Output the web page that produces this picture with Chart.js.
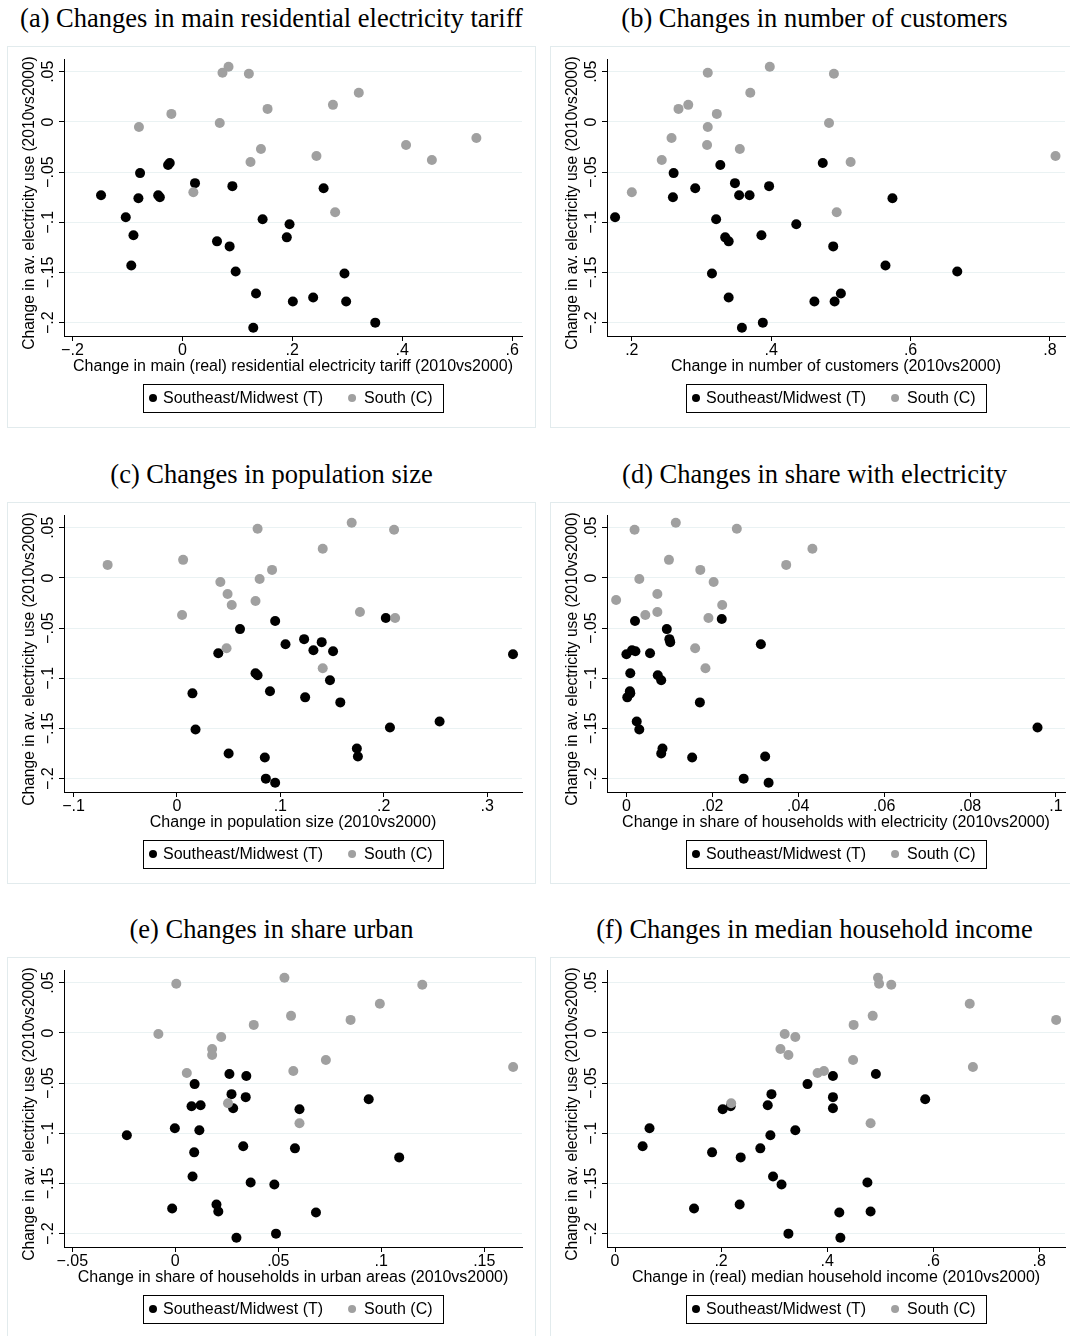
<!DOCTYPE html>
<html>
<head>
<meta charset="utf-8">
<script src="https://cdn.jsdelivr.net/npm/chart.js@4.4.1/dist/chart.umd.min.js"></script>
<style>
  html, body { margin: 0; padding: 0; background: #fff; overflow: hidden; }
  #wrap { position: relative; width: 1070px; height: 1336px; overflow: hidden; }
  .ttl { position: absolute; width: 529px; height: 30px; line-height: 30px; text-align: center;
         font: 26.5px "Liberation Serif", "Times New Roman", serif; color: #000; white-space: nowrap; }
  canvas { position: absolute; }
</style>
</head>
<body>
<div id="wrap"></div>
<script>
  // shared y axis
  const yTicks = [-0.2, -0.15, -0.1, -0.05, 0, 0.05];
  const yTickLabels = ['−.2', '−.15', '−.1', '−.05', '0', '.05'];
  const yTitle = 'Change in av. electricity use (2010vs2000)';
  const groupNames = ['Southeast/Midwest (T)', 'South (C)'];

  // (a) tariff
  const tariffTx = [-0.148, -0.103, -0.089, -0.093, -0.077, -0.080, -0.044, -0.041, -0.023, -0.026, 0.023, 0.091, 0.063, 0.086, 0.097, 0.134, 0.129, 0.146, 0.195, 0.190, 0.257, 0.201, 0.238, 0.295, 0.298, 0.351];
  const tariffTy = [-0.073, -0.095, -0.113, -0.143, -0.051, -0.076, -0.073, -0.075, -0.041, -0.043, -0.061, -0.064, -0.119, -0.124, -0.149, -0.171, -0.205, -0.097, -0.102, -0.115, -0.066, -0.179, -0.175, -0.151, -0.179, -0.200];
  const tariffCx = [0.073, 0.084, 0.121, 0.321, 0.274, 0.155, -0.020, -0.079, 0.068, 0.535, 0.407, 0.143, 0.244, 0.454, 0.124, 0.020, 0.278];
  const tariffCy = [0.049, 0.055, 0.048, 0.029, 0.017, 0.013, 0.008, -0.005, -0.001, -0.016, -0.023, -0.027, -0.034, -0.038, -0.040, -0.070, -0.090];
  const tariffTicks = [-0.2, 0, 0.2, 0.4, 0.6];
  const tariffTickLabels = ['−.2', '0', '.2', '.4', '.6'];

  // (b) customers
  const custTx = [0.176, 0.260, 0.259, 0.291, 0.327, 0.321, 0.334, 0.339, 0.315, 0.339, 0.358, 0.348, 0.354, 0.369, 0.397, 0.386, 0.388, 0.436, 0.474, 0.489, 0.462, 0.491, 0.500, 0.574, 0.564, 0.667];
  const custTy = [-0.095, -0.051, -0.075, -0.066, -0.043, -0.097, -0.115, -0.119, -0.151, -0.175, -0.205, -0.061, -0.073, -0.073, -0.064, -0.113, -0.200, -0.102, -0.041, -0.124, -0.179, -0.179, -0.171, -0.076, -0.143, -0.149];
  const custCx = [0.309, 0.398, 0.490, 0.370, 0.267, 0.281, 0.322, 0.309, 0.483, 0.257, 0.308, 0.355, 0.243, 0.514, 0.808, 0.200, 0.494];
  const custCy = [0.049, 0.055, 0.048, 0.029, 0.013, 0.017, 0.008, -0.005, -0.001, -0.016, -0.023, -0.027, -0.038, -0.040, -0.034, -0.070, -0.090];
  const custTicks = [0.2, 0.4, 0.6, 0.8];
  const custTickLabels = ['.2', '.4', '.6', '.8'];

  // (c) population
  const popTx = [0.040, 0.015, 0.018, 0.050, 0.061, 0.095, 0.085, 0.086, 0.095, 0.076, 0.078, 0.090, 0.105, 0.123, 0.132, 0.140, 0.151, 0.148, 0.124, 0.158, 0.174, 0.175, 0.206, 0.202, 0.254, 0.325];
  const popTy = [-0.075, -0.115, -0.151, -0.175, -0.051, -0.043, -0.179, -0.200, -0.204, -0.095, -0.097, -0.113, -0.066, -0.061, -0.072, -0.064, -0.073, -0.102, -0.119, -0.124, -0.170, -0.178, -0.149, -0.040, -0.143, -0.076];
  const popCx = [-0.067, 0.006, 0.005, 0.042, 0.049, 0.053, 0.048, 0.078, 0.080, 0.076, 0.092, 0.141, 0.141, 0.169, 0.177, 0.210, 0.211];
  const popCy = [0.013, 0.018, -0.037, -0.004, -0.016, -0.027, -0.070, 0.049, -0.001, -0.023, 0.008, 0.029, -0.090, 0.055, -0.034, 0.048, -0.040];
  const popTicks = [-0.1, 0, 0.1, 0.2, 0.3];
  const popTickLabels = ['−.1', '0', '.1', '.2', '.3'];

  // (d) share with electricity
  const elecTx = [0.0020, 0.0000, 0.0013, 0.0021, 0.0009, 0.0008, 0.0009, 0.0002, 0.0024, 0.0030, 0.0055, 0.0094, 0.0100, 0.0102, 0.0073, 0.0081, 0.0084, 0.0081, 0.0171, 0.0153, 0.0222, 0.0313, 0.0273, 0.0323, 0.0331, 0.0957];
  const elecTy = [-0.043, -0.076, -0.072, -0.073, -0.095, -0.113, -0.115, -0.119, -0.143, -0.151, -0.075, -0.051, -0.061, -0.064, -0.097, -0.102, -0.170, -0.175, -0.124, -0.179, -0.041, -0.066, -0.200, -0.178, -0.204, -0.149];
  const elecCx = [-0.0024, 0.0019, 0.0030, 0.0044, 0.0072, 0.0072, 0.0099, 0.0115, 0.0172, 0.0191, 0.0160, 0.0184, 0.0203, 0.0223, 0.0257, 0.0372, 0.0433];
  const elecCy = [-0.022, 0.048, -0.001, -0.037, -0.016, -0.034, 0.018, 0.055, 0.008, -0.040, -0.070, -0.090, -0.004, -0.027, 0.049, 0.013, 0.029];
  const elecTicks = [0, 0.02, 0.04, 0.06, 0.08, 0.1];
  const elecTickLabels = ['0', '.02', '.04', '.06', '.08', '.1'];

  // (e) share urban
  const urbTx = [-0.0235, -0.0015, -0.0002, 0.0094, 0.0079, 0.0123, 0.0117, 0.0092, 0.0084, 0.0200, 0.0209, 0.0297, 0.0263, 0.0273, 0.0281, 0.0345, 0.0342, 0.0330, 0.0366, 0.0481, 0.0489, 0.0581, 0.0603, 0.0683, 0.0939, 0.1087];
  const urbTy = [-0.102, -0.175, -0.095, -0.051, -0.073, -0.072, -0.097, -0.119, -0.143, -0.171, -0.178, -0.204, -0.041, -0.061, -0.075, -0.043, -0.064, -0.113, -0.149, -0.151, -0.200, -0.115, -0.076, -0.179, -0.066, -0.124];
  const urbCx = [0.0005, -0.0082, 0.0056, 0.0179, 0.0179, 0.0223, 0.0256, 0.0381, 0.0530, 0.0562, 0.0573, 0.0603, 0.0731, 0.0851, 0.0993, 0.1199, 0.1640];
  const urbCy = [0.049, -0.001, -0.040, -0.016, -0.022, -0.004, -0.070, 0.008, 0.055, 0.017, -0.038, -0.090, -0.027, 0.013, 0.029, 0.048, -0.034];
  const urbTicks = [-0.05, 0, 0.05, 0.1, 0.15];
  const urbTickLabels = ['−.05', '0', '.05', '.1', '.15'];

  // (f) median income
  const incTx = [0.052, 0.065, 0.149, 0.183, 0.203, 0.218, 0.237, 0.235, 0.274, 0.288, 0.295, 0.293, 0.298, 0.314, 0.327, 0.340, 0.363, 0.411, 0.411, 0.411, 0.423, 0.425, 0.476, 0.482, 0.492, 0.585];
  const incTy = [-0.113, -0.095, -0.175, -0.119, -0.076, -0.073, -0.124, -0.171, -0.115, -0.072, -0.061, -0.102, -0.143, -0.151, -0.200, -0.097, -0.051, -0.043, -0.064, -0.075, -0.179, -0.204, -0.149, -0.178, -0.041, -0.066];
  const incCx = [0.219, 0.312, 0.320, 0.327, 0.340, 0.382, 0.394, 0.449, 0.450, 0.482, 0.486, 0.496, 0.498, 0.521, 0.669, 0.675, 0.832];
  const incCy = [-0.070, -0.016, -0.001, -0.022, -0.004, -0.040, -0.038, -0.027, 0.008, -0.090, 0.017, 0.055, 0.049, 0.048, 0.029, -0.034, 0.013];
  const incTicks = [0, 0.2, 0.4, 0.6, 0.8];
  const incTickLabels = ['0', '.2', '.4', '.6', '.8'];

  const panels = [
    { title: '(a) Changes in main residential electricity tariff', xTitle: 'Change in main (real) residential electricity tariff (2010vs2000)',
      tx: tariffTx, ty: tariffTy, cx: tariffCx, cy: tariffCy, ticks: tariffTicks, labels: tariffTickLabels, min: -0.2154, max: 0.618 },
    { title: '(b) Changes in number of customers', xTitle: 'Change in number of customers (2010vs2000)',
      tx: custTx, ty: custTy, cx: custCx, cy: custCy, ticks: custTicks, labels: custTickLabels, min: 0.1644, max: 0.8216 },
    { title: '(c) Changes in population size', xTitle: 'Change in population size (2010vs2000)',
      tx: popTx, ty: popTy, cx: popCx, cy: popCy, ticks: popTicks, labels: popTickLabels, min: -0.1092, max: 0.3337 },
    { title: '(d) Changes in share with electricity', xTitle: 'Change in share of households with electricity (2010vs2000)',
      tx: elecTx, ty: elecTy, cx: elecCx, cy: elecCy, ticks: elecTicks, labels: elecTickLabels, min: -0.00452, max: 0.1021 },
    { title: '(e) Changes in share urban', xTitle: 'Change in share of households in urban areas (2010vs2000)',
      tx: urbTx, ty: urbTy, cx: urbCx, cy: urbCy, ticks: urbTicks, labels: urbTickLabels, min: -0.054, max: 0.1683 },
    { title: '(f) Changes in median household income', xTitle: 'Change in (real) median household income (2010vs2000)',
      tx: incTx, ty: incTy, cx: incCx, cy: incCy, ticks: incTicks, labels: incTickLabels, min: -0.0152, max: 0.8487 },
  ];

  const FONT = '"Liberation Sans", Arial, sans-serif';
  const GREY = '#a0a0a0';

  // box outline, rotated y labels / y title and the boxed legend
  const decor = {
    id: 'decor',
    beforeDraw(chart) {
      const c = chart.ctx;
      c.save();
      c.fillStyle = '#fff';
      c.fillRect(0, 0, chart.width, chart.height);
      c.strokeStyle = '#e2ebed';
      c.lineWidth = 1;
      c.strokeRect(0.5, 0.5, chart.width - 1, chart.height - 1);
      c.restore();
    },
    afterDraw(chart) {
      const c = chart.ctx, ys = chart.scales.y, area = chart.chartArea;
      c.save();
      c.fillStyle = '#000';
      c.textAlign = 'center';
      c.textBaseline = 'middle';
      c.font = '16px ' + FONT;
      yTicks.forEach((v, k) => {
        c.save();
        c.translate(41, ys.getPixelForValue(v));
        c.rotate(-Math.PI / 2);
        c.fillText(yTickLabels[k], 0, 1);
        c.restore();
      });
      c.font = '15.6px ' + FONT;
      c.save();
      c.translate(23, 157);
      c.rotate(-Math.PI / 2);
      c.fillText(yTitle, 0, 0);
      c.restore();

      c.font = '16px ' + FONT;
      const ds = chart.data.datasets;
      const w = ds.map(d => c.measureText(d.label).width);
      const total = 10 + 10 + w[0] + 29 + 12 + w[1] + 10;
      const x0 = Math.round((area.left + area.right) / 2 - total / 2);
      const top = 338, h = 28, cy = top + h / 2;
      c.strokeStyle = '#000';
      c.lineWidth = 1;
      c.strokeRect(x0 + 0.5, top + 0.5, Math.round(total), h);
      let x = x0 + 10;
      ds.forEach((d, k) => {
        c.beginPath();
        c.arc(x, cy, 4, 0, Math.PI * 2);
        c.fillStyle = d.backgroundColor;
        c.fill();
        c.fillStyle = '#000';
        c.textAlign = 'left';
        const tx = x + (k === 0 ? 10 : 12);
        c.fillText(d.label, tx, cy + 1);
        x = tx + w[k] + 29;
      });
      c.restore();
    }
  };

  const wrap = document.getElementById('wrap');

  panels.forEach((p, i) => {
    const col = i % 2, row = Math.floor(i / 2);
    const left = col ? 550 : 7;
    const top = Math.round(46 + row * 455.7);

    const t = document.createElement('div');
    t.className = 'ttl';
    t.style.left = left + 'px';
    t.style.top = (top - 43) + 'px';
    t.textContent = p.title;
    wrap.appendChild(t);

    const cv = document.createElement('canvas');
    cv.width = 529;
    cv.height = 382;
    cv.style.left = left + 'px';
    cv.style.top = top + 'px';
    wrap.appendChild(cv);

    new Chart(cv, {
      type: 'scatter',
      data: {
        datasets: [{
          label: groupNames[0],
          data: p.tx.map((x, k) => ({ x: x, y: p.ty[k] })),
          backgroundColor: '#000',
          pointRadius: 5,
          pointBorderWidth: 0,
          order: 2,
        }, {
          label: groupNames[1],
          data: p.cx.map((x, k) => ({ x: x, y: p.cy[k] })),
          backgroundColor: GREY,
          pointRadius: 5,
          pointBorderWidth: 0,
          order: 1,
        }]
      },
      options: {
        responsive: false,
        animation: false,
        devicePixelRatio: 1,
        layout: { padding: { top: 13, right: 14, bottom: 50, left: 0 } },
        plugins: { legend: { display: false }, tooltip: { enabled: false } },
        scales: {
          x: {
            type: 'linear',
            min: p.min,
            max: p.max,
            afterBuildTicks: s => { s.ticks = p.ticks.map(v => ({ value: v })); },
            afterFit: s => { s.height = 42; s.paddingLeft = 0; s.paddingRight = 0; },
            ticks: {
              autoSkip: false, maxRotation: 0, minRotation: 0, padding: 0, color: '#000',
              font: { family: FONT, size: 16 },
              callback: (v, k) => p.labels[k],
            },
            grid: { drawOnChartArea: false, drawTicks: true, tickLength: 5, tickColor: '#000' },
            border: { display: true, color: '#000' },
            title: { display: true, text: p.xTitle, color: '#000', font: { family: FONT, size: 16 }, padding: { top: 0, bottom: 2 } },
          },
          y: {
            type: 'linear',
            min: -0.2133,
            max: 0.0627,
            afterBuildTicks: s => { s.ticks = yTicks.map(v => ({ value: v })); },
            afterFit: s => { s.width = 57; },
            ticks: { display: false },
            grid: { color: '#eaf2f3', drawTicks: true, tickLength: 5, tickColor: '#000' },
            border: { display: true, color: '#000' },
            title: { display: false },
          }
        }
      },
      plugins: [decor]
    });
  });
</script>
</body>
</html>
